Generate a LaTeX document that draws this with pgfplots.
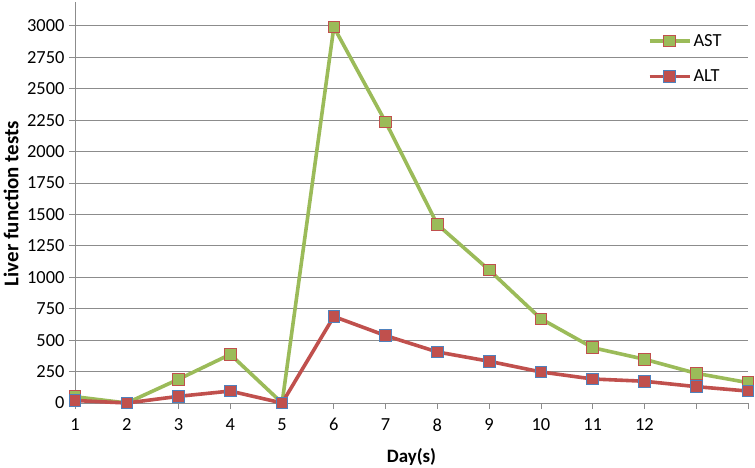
\documentclass[border=0pt]{standalone}
\usepackage{pgfplots}
\pgfplotsset{compat=1.18}
\usepackage{fontspec}
\setmainfont{Carlito}
\definecolor{astgreen}{HTML}{9BBB59}
\definecolor{altred}{HTML}{C0504D}
\definecolor{markblue}{HTML}{4F81BD}
\definecolor{gridgray}{RGB}{140,140,140}
\begin{document}
\begin{tikzpicture}
\path[use as bounding box] (-75bp,-65bp) rectangle (680bp,403bp);
\begin{axis}[
  scale only axis,
  width=673bp, height=401bp,
  xmin=1, xmax=14, ymin=0, ymax=3190,
  clip=false,
  axis y line*=left, axis x line*=bottom,
  axis line style={gridgray, line width=0.8bp},
  every outer x axis line/.append style={-},
  every outer y axis line/.append style={-},
  xtick={1,...,14},
  xticklabels={1,2,3,4,5,6,7,8,9,10,11,12,{},{}},
  ytick={0,250,...,3000},
  ymajorgrids,
  major grid style={gridgray, line width=0.8bp},
  tick style={gridgray, line width=0.8bp},
  tick align=outside,
  major tick length=6bp,
  /pgf/number format/assume math mode=true,
  /pgf/number format/1000 sep={},
  tick label style={font=\fontsize{18.5}{22}\selectfont, black},
  xticklabel style={yshift=-6bp},
  yticklabel style={xshift=-1bp},
  xlabel={\textbf{Day(s)}},
  ylabel={\textbf{Liver function tests}},
  xlabel style={font=\fontsize{19}{22}\selectfont, at={(axis description cs:0.5,-0.134)}, anchor=center},
  ylabel style={font=\fontsize{21}{24}\selectfont, at={(axis description cs:-0.095,0.497)}, anchor=center},
  legend style={draw=none, fill=none, at={(rel axis cs:0.851,0.93)}, anchor=north west,
    font=\fontsize{18.5}{22}\selectfont, row sep=18bp, cells={anchor=west},
    inner xsep=0pt},
  legend image code/.code={\draw[mark repeat=2,mark phase=2,#1] plot coordinates {(0bp,0bp) (20bp,0bp) (40bp,0bp)};},
]
\addplot[astgreen, line width=3.6bp, mark=square*, mark size=5.8bp,
  mark options={fill=astgreen, draw=altred, line width=0.9bp}]
  coordinates {(1,50) (2,0) (3,189) (4,387) (5,0) (6,2990) (7,2235) (8,1420) (9,1058) (10,670) (11,440) (12,348) (13,236) (14,162)};
\addlegendentry{AST}
\addplot[altred, line width=3.6bp, mark=square*, mark size=5.8bp,
  mark options={fill=altred, draw=markblue, line width=0.9bp}]
  coordinates {(1,20) (2,0) (3,53) (4,95) (5,0) (6,688) (7,536) (8,406) (9,332) (10,247) (11,191) (12,173) (13,130) (14,95)};
\addlegendentry{ALT}
\end{axis}
\end{tikzpicture}
\end{document}
